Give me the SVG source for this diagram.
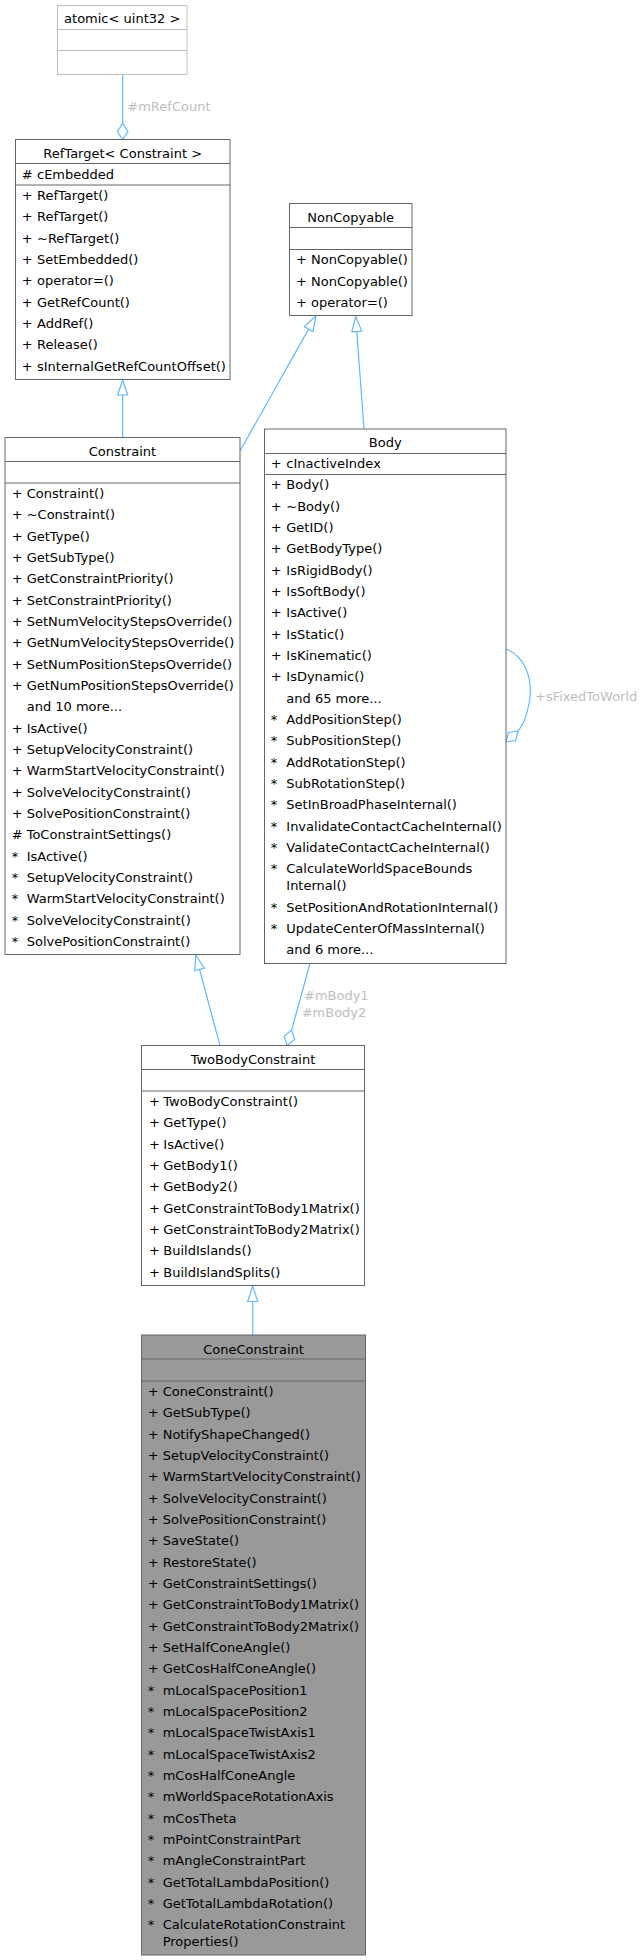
<svg xmlns="http://www.w3.org/2000/svg" width="642" height="1960" viewBox="0 0 642 1960">
<style>
text{font-family:"DejaVu Sans",Verdana,sans-serif;font-size:13px;fill:#000}
.t{text-anchor:middle}
.box{fill:#fff;stroke:#666;stroke-width:1}
.ext{fill:#fff;stroke:#bfbfbf;stroke-width:1}
.cur{fill:#999;stroke:#666;stroke-width:1}
.div{stroke:#666;stroke-width:1}
.divx{stroke:#bfbfbf;stroke-width:1}
.e{fill:none;stroke:#63b8ff;stroke-width:1.2}
.ah{fill:#fff;stroke:#63b8ff;stroke-width:1.2}
.lbl{fill:#bebebe}
</style>
<rect width="642" height="1960" fill="#fff"/>
<g id="connectors">
<path class="e" d="M122.7,74.5V123.3"/>
<path class="ah" d="M122.7,123.3L117.3,131.5L122.7,139.7L128,131.5Z"/>
<text class="lbl" x="127.3" y="111">#mRefCount</text>
<path class="e" d="M122.7,437.7V395"/>
<path class="ah" d="M122.7,380L117.7,395L127.7,395Z"/>
<path class="e" d="M240,451L308.6,329.1"/>
<path class="ah" d="M316,316L312.9,331.5L304.3,326.6Z"/>
<path class="e" d="M364,429L356.8,331.5"/>
<path class="ah" d="M355.7,316.5L361.8,331.1L351.8,331.9Z"/>
<path class="e" d="M506,649C524,656 532,676 530,697C528,712 524,724 518,731"/>
<path class="ah" d="M506,742L515.7,740.5L518,731L508.3,732.5Z"/>
<text class="lbl" x="535" y="700.5">+sFixedToWorld</text>
<path class="e" d="M220,1045.7L199.6,969.5"/>
<path class="ah" d="M195.7,955L204.4,968.2L194.8,970.8Z"/>
<path class="e" d="M310,963.5L291.6,1030.1"/>
<path class="ah" d="M287.3,1045.5L294.7,1039.3L291.6,1030.1L284.1,1036.3Z"/>
<text class="lbl" x="304" y="1000.3">#mBody1</text>
<text class="lbl" x="301.7" y="1017">#mBody2</text>
<path class="e" d="M252.7,1335V1301.5"/>
<path class="ah" d="M252.7,1286L247.7,1301.5L257.7,1301.5Z"/>
</g>
<g id="atomic">
<rect class="ext" x="57.5" y="5.5" width="129.5" height="69"/>
<path class="divx" d="M57.5,29.5H187M57.5,50.5H187"/>
<text class="t" x="122.2" y="23">atomic&lt; uint32 &gt;</text>
</g>
<g id="RefTarget">
<rect class="box" x="15.5" y="139.5" width="214.5" height="240"/>
<path class="div" d="M15.5,163.5H230M15.5,185H230"/>
<text class="t" x="122.7" y="157.5">RefTarget&lt; Constraint &gt;</text>
<text x="21.7" y="178.9"># </text><text x="37" y="178.9">cEmbedded</text>
<text x="21.7" y="199.9">+</text><text x="37" y="199.9">RefTarget()</text>
<text x="21.7" y="221.2">+</text><text x="37" y="221.2">RefTarget()</text>
<text x="21.7" y="242.6">+</text><text x="37" y="242.6">~RefTarget()</text>
<text x="21.7" y="263.9">+</text><text x="37" y="263.9">SetEmbedded()</text>
<text x="21.7" y="285.2">+</text><text x="37" y="285.2">operator=()</text>
<text x="21.7" y="306.6">+</text><text x="37" y="306.6">GetRefCount()</text>
<text x="21.7" y="327.9">+</text><text x="37" y="327.9">AddRef()</text>
<text x="21.7" y="349.2">+</text><text x="37" y="349.2">Release()</text>
<text x="21.7" y="370.6">+</text><text x="37" y="370.6">sInternalGetRefCountOffset()</text>
</g>
<g id="NonCopyable">
<rect class="box" x="289.5" y="203.5" width="122.5" height="112"/>
<path class="div" d="M289.5,227.5H412M289.5,249.5H412"/>
<text class="t" x="350.7" y="221.5">NonCopyable</text>
<text x="296" y="264.2">+</text><text x="311" y="264.2">NonCopyable()</text>
<text x="296" y="285.6">+</text><text x="311" y="285.6">NonCopyable()</text>
<text x="296" y="306.9">+</text><text x="311" y="306.9">operator=()</text>
</g>
<g id="Constraint">
<rect class="box" x="5" y="437.5" width="235" height="517"/>
<path class="div" d="M5,461.5H240M5,483H240"/>
<text class="t" x="122.5" y="455.5">Constraint</text>
<text x="11.7" y="497.9">+</text><text x="26.7" y="497.9">Constraint()</text>
<text x="11.7" y="519.2">+</text><text x="26.7" y="519.2">~Constraint()</text>
<text x="11.7" y="540.6">+</text><text x="26.7" y="540.6">GetType()</text>
<text x="11.7" y="561.9">+</text><text x="26.7" y="561.9">GetSubType()</text>
<text x="11.7" y="583.2">+</text><text x="26.7" y="583.2">GetConstraintPriority()</text>
<text x="11.7" y="604.6">+</text><text x="26.7" y="604.6">SetConstraintPriority()</text>
<text x="11.7" y="625.9">+</text><text x="26.7" y="625.9">SetNumVelocityStepsOverride()</text>
<text x="11.7" y="647.2">+</text><text x="26.7" y="647.2">GetNumVelocityStepsOverride()</text>
<text x="11.7" y="668.5">+</text><text x="26.7" y="668.5">SetNumPositionStepsOverride()</text>
<text x="11.7" y="689.9">+</text><text x="26.7" y="689.9">GetNumPositionStepsOverride()</text>
<text x="26.7" y="711.2">and 10 more...</text>
<text x="11.7" y="732.5">+</text><text x="26.7" y="732.5">IsActive()</text>
<text x="11.7" y="753.9">+</text><text x="26.7" y="753.9">SetupVelocityConstraint()</text>
<text x="11.7" y="775.2">+</text><text x="26.7" y="775.2">WarmStartVelocityConstraint()</text>
<text x="11.7" y="796.5">+</text><text x="26.7" y="796.5">SolveVelocityConstraint()</text>
<text x="11.7" y="817.9">+</text><text x="26.7" y="817.9">SolvePositionConstraint()</text>
<text x="11.7" y="839.2">#</text><text x="26.7" y="839.2">ToConstraintSettings()</text>
<text x="11.7" y="860.5">*</text><text x="26.7" y="860.5">IsActive()</text>
<text x="11.7" y="881.8">*</text><text x="26.7" y="881.8">SetupVelocityConstraint()</text>
<text x="11.7" y="903.2">*</text><text x="26.7" y="903.2">WarmStartVelocityConstraint()</text>
<text x="11.7" y="924.5">*</text><text x="26.7" y="924.5">SolveVelocityConstraint()</text>
<text x="11.7" y="945.8">*</text><text x="26.7" y="945.8">SolvePositionConstraint()</text>
</g>
<g id="Body">
<rect class="box" x="264.5" y="429" width="241.5" height="534.5"/>
<path class="div" d="M264.5,453.5H506M264.5,474.5H506"/>
<text class="t" x="385.2" y="447">Body</text>
<text x="270.7" y="468.4">+</text><text x="286.3" y="468.4">cInactiveIndex</text>
<text x="270.7" y="489.4">+</text><text x="286.3" y="489.4">Body()</text>
<text x="270.7" y="510.7">+</text><text x="286.3" y="510.7">~Body()</text>
<text x="270.7" y="532.1">+</text><text x="286.3" y="532.1">GetID()</text>
<text x="270.7" y="553.4">+</text><text x="286.3" y="553.4">GetBodyType()</text>
<text x="270.7" y="574.7">+</text><text x="286.3" y="574.7">IsRigidBody()</text>
<text x="270.7" y="596.1">+</text><text x="286.3" y="596.1">IsSoftBody()</text>
<text x="270.7" y="617.4">+</text><text x="286.3" y="617.4">IsActive()</text>
<text x="270.7" y="638.7">+</text><text x="286.3" y="638.7">IsStatic()</text>
<text x="270.7" y="660">+</text><text x="286.3" y="660">IsKinematic()</text>
<text x="270.7" y="681.4">+</text><text x="286.3" y="681.4">IsDynamic()</text>
<text x="286.3" y="702.7">and 65 more...</text>
<text x="270.7" y="724">*</text><text x="286.3" y="724">AddPositionStep()</text>
<text x="270.7" y="745.4">*</text><text x="286.3" y="745.4">SubPositionStep()</text>
<text x="270.7" y="766.7">*</text><text x="286.3" y="766.7">AddRotationStep()</text>
<text x="270.7" y="788">*</text><text x="286.3" y="788">SubRotationStep()</text>
<text x="270.7" y="809.4">*</text><text x="286.3" y="809.4">SetInBroadPhaseInternal()</text>
<text x="270.7" y="830.7">*</text><text x="286.3" y="830.7">InvalidateContactCacheInternal()</text>
<text x="270.7" y="852">*</text><text x="286.3" y="852">ValidateContactCacheInternal()</text>
<text x="270.7" y="873.4">*</text><text x="286.3" y="873.4">CalculateWorldSpaceBounds</text>
<text x="286.3" y="890.4">Internal()</text>
<text x="270.7" y="911.7">*</text><text x="286.3" y="911.7">SetPositionAndRotationInternal()</text>
<text x="270.7" y="933">*</text><text x="286.3" y="933">UpdateCenterOfMassInternal()</text>
<text x="286.3" y="954.4">and 6 more...</text>
</g>
<g id="TwoBodyConstraint">
<rect class="box" x="141.5" y="1045.5" width="223" height="240"/>
<path class="div" d="M141.5,1069.5H364.5M141.5,1091H364.5"/>
<text class="t" x="253" y="1063.7">TwoBodyConstraint</text>
<text x="149" y="1105.9">+</text><text x="163.3" y="1105.9">TwoBodyConstraint()</text>
<text x="149" y="1127.2">+</text><text x="163.3" y="1127.2">GetType()</text>
<text x="149" y="1148.6">+</text><text x="163.3" y="1148.6">IsActive()</text>
<text x="149" y="1169.9">+</text><text x="163.3" y="1169.9">GetBody1()</text>
<text x="149" y="1191.2">+</text><text x="163.3" y="1191.2">GetBody2()</text>
<text x="149" y="1212.6">+</text><text x="163.3" y="1212.6">GetConstraintToBody1Matrix()</text>
<text x="149" y="1233.9">+</text><text x="163.3" y="1233.9">GetConstraintToBody2Matrix()</text>
<text x="149" y="1255.2">+</text><text x="163.3" y="1255.2">BuildIslands()</text>
<text x="149" y="1276.6">+</text><text x="163.3" y="1276.6">BuildIslandSplits()</text>
</g>
<g id="ConeConstraint">
<rect class="cur" x="141.5" y="1335" width="224" height="620"/>
<path class="div" d="M141.5,1359H365.5M141.5,1381H365.5"/>
<text class="t" x="253.5" y="1353.5">ConeConstraint</text>
<text x="147.7" y="1395.9">+</text><text x="162.7" y="1395.9">ConeConstraint()</text>
<text x="147.7" y="1417.2">+</text><text x="162.7" y="1417.2">GetSubType()</text>
<text x="147.7" y="1438.6">+</text><text x="162.7" y="1438.6">NotifyShapeChanged()</text>
<text x="147.7" y="1459.9">+</text><text x="162.7" y="1459.9">SetupVelocityConstraint()</text>
<text x="147.7" y="1481.2">+</text><text x="162.7" y="1481.2">WarmStartVelocityConstraint()</text>
<text x="147.7" y="1502.6">+</text><text x="162.7" y="1502.6">SolveVelocityConstraint()</text>
<text x="147.7" y="1523.9">+</text><text x="162.7" y="1523.9">SolvePositionConstraint()</text>
<text x="147.7" y="1545.2">+</text><text x="162.7" y="1545.2">SaveState()</text>
<text x="147.7" y="1566.5">+</text><text x="162.7" y="1566.5">RestoreState()</text>
<text x="147.7" y="1587.9">+</text><text x="162.7" y="1587.9">GetConstraintSettings()</text>
<text x="147.7" y="1609.2">+</text><text x="162.7" y="1609.2">GetConstraintToBody1Matrix()</text>
<text x="147.7" y="1630.5">+</text><text x="162.7" y="1630.5">GetConstraintToBody2Matrix()</text>
<text x="147.7" y="1651.9">+</text><text x="162.7" y="1651.9">SetHalfConeAngle()</text>
<text x="147.7" y="1673.2">+</text><text x="162.7" y="1673.2">GetCosHalfConeAngle()</text>
<text x="147.7" y="1694.5">*</text><text x="162.7" y="1694.5">mLocalSpacePosition1</text>
<text x="147.7" y="1715.9">*</text><text x="162.7" y="1715.9">mLocalSpacePosition2</text>
<text x="147.7" y="1737.2">*</text><text x="162.7" y="1737.2">mLocalSpaceTwistAxis1</text>
<text x="147.7" y="1758.5">*</text><text x="162.7" y="1758.5">mLocalSpaceTwistAxis2</text>
<text x="147.7" y="1779.8">*</text><text x="162.7" y="1779.8">mCosHalfConeAngle</text>
<text x="147.7" y="1801.2">*</text><text x="162.7" y="1801.2">mWorldSpaceRotationAxis</text>
<text x="147.7" y="1822.5">*</text><text x="162.7" y="1822.5">mCosTheta</text>
<text x="147.7" y="1843.8">*</text><text x="162.7" y="1843.8">mPointConstraintPart</text>
<text x="147.7" y="1865.2">*</text><text x="162.7" y="1865.2">mAngleConstraintPart</text>
<text x="147.7" y="1886.5">*</text><text x="162.7" y="1886.5">GetTotalLambdaPosition()</text>
<text x="147.7" y="1907.8">*</text><text x="162.7" y="1907.8">GetTotalLambdaRotation()</text>
<text x="147.7" y="1929.2">*</text><text x="162.7" y="1929.2">CalculateRotationConstraint</text>
<text x="162.7" y="1946.2">Properties()</text>
</g>
</svg>
